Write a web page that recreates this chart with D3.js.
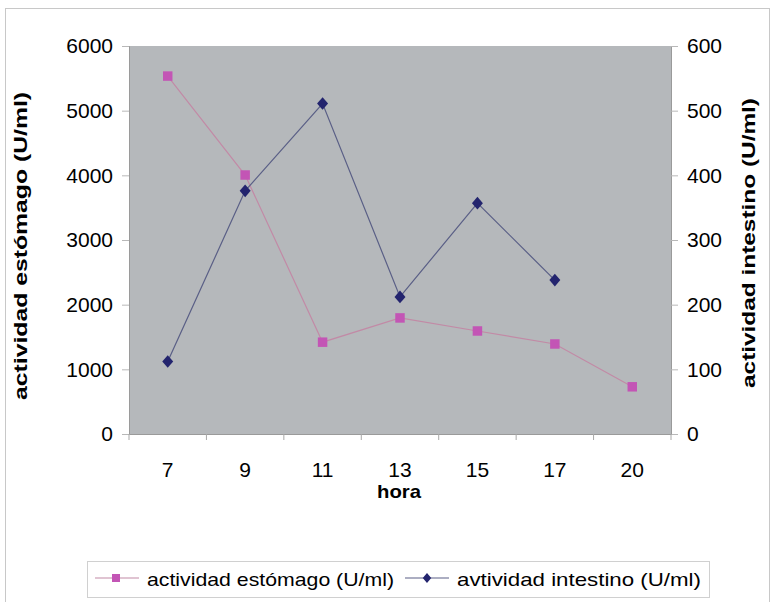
<!DOCTYPE html>
<html>
<meta charset="utf-8">
<head>
  <title>actividad</title>
</head>
<style>
body { margin: 0; background: white; }
text { font-family: "Liberation Sans", Arial, sans-serif; fill: black; }
</style>
<body>
<svg width="772" height="602"></svg>
<script src="https://cdnjs.cloudflare.com/ajax/libs/d3/7.8.5/d3.min.js"></script>
<script>
var horas = ["7", "9", "11", "13", "15", "17", "20"];
var estomago = [5535, 4005, 1420, 1795, 1593, 1392, 730];
var intestino = [112, 376, 511, 212, 357, 238];
var leftTicks = [0, 1000, 2000, 3000, 4000, 5000, 6000];
var rightTicks = [0, 100, 200, 300, 400, 500, 600];

var svg = d3.select("svg");
var m = {left: 129, right: 671, top: 46, bottom: 434};

// outer frame
svg.append("rect")
  .attr("x", 5.5).attr("y", 8.5).attr("width", 764).attr("height", 600)
  .attr("fill", "none").attr("stroke", "#c8c8c8");

var x = d3.scaleBand().domain(horas).range([m.left, m.right]);
var yL = d3.scaleLinear().domain([0, 6000]).range([m.bottom, m.top]);
var yR = d3.scaleLinear().domain([0, 600]).range([m.bottom, m.top]);

svg.append("rect")
  .attr("x", m.left).attr("y", m.top)
  .attr("width", m.right - m.left).attr("height", m.bottom - m.top)
  .attr("fill", "#b5b8bb");

var fmt = d3.format("d");

var gL = svg.append("g").attr("transform", "translate(" + m.left + ",0)")
  .call(d3.axisLeft(yL).tickValues(leftTicks).tickFormat(fmt).tickSize(7).tickPadding(9));
gL.selectAll("text").style("font-size", "21px");

var gR = svg.append("g").attr("transform", "translate(" + m.right + ",0)")
  .call(d3.axisRight(yR).tickValues(rightTicks).tickFormat(fmt).tickSize(7).tickPadding(9));
gR.selectAll("text").style("font-size", "21px");

var gX = svg.append("g").attr("transform", "translate(0," + m.bottom + ")")
  .call(d3.axisBottom(x).tickSize(0).tickPadding(28));
gX.selectAll("text").style("font-size", "21px");
// small marks between the categories
gX.selectAll(".sep").data(horas.concat(["end"])).enter().append("line")
  .attr("x1", function(d, i) { return m.left + i * x.step(); })
  .attr("x2", function(d, i) { return m.left + i * x.step(); })
  .attr("y1", 0).attr("y2", 6)
  .attr("stroke", "#a8a8a8");

svg.selectAll(".domain").attr("stroke", "#9a9a9a");
svg.selectAll(".tick line").attr("stroke", "#b8b8b8");

var cx = function(d, i) { return x(horas[i]) + x.bandwidth() / 2; };

svg.append("path").datum(estomago)
  .attr("fill", "none").attr("stroke", "#c28aa6").attr("stroke-width", 1.2)
  .attr("d", d3.line().x(cx).y(function(d) { return yL(d); }));

svg.append("path").datum(intestino)
  .attr("fill", "none").attr("stroke", "#5a5f86").attr("stroke-width", 1.2)
  .attr("d", d3.line().x(cx).y(function(d) { return yR(d); }));

var sq = d3.symbol().type(d3.symbolSquare).size(90);
var dm = d3.symbol().type(d3.symbolSquare).size(60);

svg.selectAll(".ptE").data(estomago).enter().append("path")
  .attr("d", sq)
  .attr("transform", function(d, i) { return "translate(" + cx(d, i) + "," + yL(d) + ")"; })
  .attr("fill", "#c355b5");

svg.selectAll(".ptI").data(intestino).enter().append("path")
  .attr("d", dm)
  .attr("transform", function(d, i) { return "translate(" + cx(d, i) + "," + yR(d) + ") scale(1,1.15) rotate(45)"; })
  .attr("fill", "#23246e");

// axis titles
svg.append("text")
  .attr("transform", "translate(27,246) rotate(-90)")
  .attr("text-anchor", "middle").style("font-size", "18px").style("font-weight", "bold")
  .attr("textLength", 308).attr("lengthAdjust", "spacingAndGlyphs")
  .text("actividad estómago (U/ml)");
svg.append("text")
  .attr("transform", "translate(755,243) rotate(-90)")
  .attr("text-anchor", "middle").style("font-size", "18px").style("font-weight", "bold")
  .attr("textLength", 290).attr("lengthAdjust", "spacingAndGlyphs")
  .text("actividad intestino (U/ml)");
svg.append("text")
  .attr("x", 399).attr("y", 498)
  .attr("text-anchor", "middle").style("font-size", "19px").style("font-weight", "bold")
  .attr("textLength", 44).attr("lengthAdjust", "spacingAndGlyphs")
  .text("hora");

// legend
var lg = svg.append("g");
lg.append("rect").attr("x", 87.5).attr("y", 561.5).attr("width", 622).attr("height", 36)
  .attr("fill", "white").attr("stroke", "#d0d0d0");
var items = [
  {name: "actividad estómago (U/ml)", x0: 95, w: 247, line: "#c28aa6", fill: "#c355b5", mk: "translate(116,578)", d: d3.symbol().type(d3.symbolSquare).size(64)()},
  {name: "avtividad intestino (U/ml)", x0: 405, w: 244, line: "#5a5f86", fill: "#23246e", mk: "translate(427,578) scale(1,1.15) rotate(45)", d: d3.symbol().type(d3.symbolSquare).size(36)()}
];
items.forEach(function(it) {
  lg.append("line").attr("x1", it.x0).attr("x2", it.x0 + 44).attr("y1", 578).attr("y2", 578)
    .attr("stroke", it.line).attr("stroke-width", 1.2);
  lg.append("path").attr("d", it.d).attr("fill", it.fill).attr("transform", it.mk);
  lg.append("text").attr("x", it.x0 + 52).attr("y", 586)
    .style("font-size", "19px")
    .attr("textLength", it.w).attr("lengthAdjust", "spacingAndGlyphs")
    .text(it.name);
});
</script>
</body>
</html>
